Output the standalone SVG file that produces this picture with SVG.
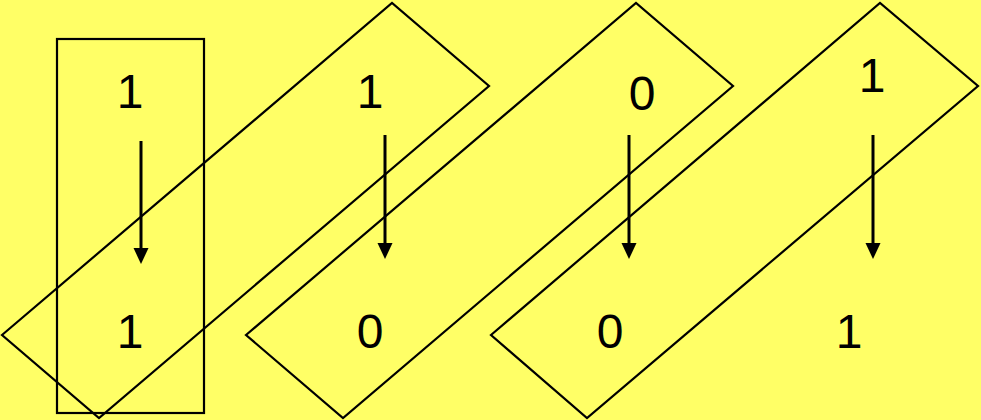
<svg xmlns="http://www.w3.org/2000/svg" width="981" height="420" viewBox="0 0 981 420">
<defs>
<style>
.shape{fill:none;stroke:#000;stroke-width:2.2;stroke-linejoin:miter}
.lbl{font-size:48px;fill:#000;text-anchor:middle}
.arr{stroke:#000;stroke-width:3;fill:none}
.head{fill:#000;stroke:none}
</style>
</defs>
<rect width="981" height="420" fill="#FFFF66"/>
<g id="rect1"><rect class="shape" x="57" y="39" width="147" height="374"/></g>
<g id="band1"><polygon class="shape" points="2,335 392,3 489,86 99,418"/></g>
<g id="band2"><polygon class="shape" points="246,335 636,3 733,86 343,418"/></g>
<g id="band3"><polygon class="shape" points="491,335 880,3 978,86 587,418"/></g>
<g id="labels" font-family="Liberation Sans, Arimo, Arial, sans-serif">
<text class="lbl" x="130" y="108">1</text>
<text class="lbl" x="370" y="108">1</text>
<text class="lbl" x="642" y="110">0</text>
<text class="lbl" x="872" y="92">1</text>
<text class="lbl" x="130" y="348">1</text>
<text class="lbl" x="370" y="348">0</text>
<text class="lbl" x="610" y="348">0</text>
<text class="lbl" x="849" y="348">1</text>
</g>
<g id="connectors">
<line class="arr" x1="141" y1="141" x2="141" y2="250"/>
<polygon class="head" points="133.5,248 148.5,248 141,264"/>
<line class="arr" x1="385" y1="135" x2="385" y2="245"/>
<polygon class="head" points="377.5,243 392.5,243 385,259"/>
<line class="arr" x1="629" y1="135" x2="629" y2="245"/>
<polygon class="head" points="621.5,243 636.5,243 629,259"/>
<line class="arr" x1="873" y1="135" x2="873" y2="245"/>
<polygon class="head" points="865.5,243 880.5,243 873,259"/>
</g>
</svg>
